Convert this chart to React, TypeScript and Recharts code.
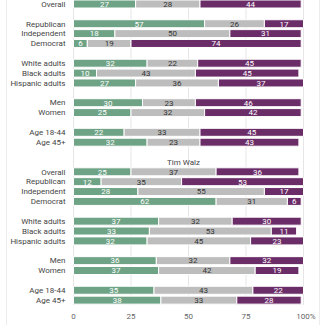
import React from 'react';
import { BarChart, Bar, XAxis, YAxis, CartesianGrid, LabelList, ReferenceLine } from 'recharts';

const groups = ['Overall', 'Republican', 'Independent', 'Democrat', 'White adults', 'Black adults', 'Hispanic adults', 'Men', 'Women', 'Age 18-44', 'Age 45+'];
// gap rows inserted after these group indices
const vanceGapAfter = [0, 3, 6, 8];
const walzGapAfter = [3, 6, 8];

const vanceFavorable = [27, 57, 18, 6, 32, 10, 27, 30, 25, 22, 32];
const vanceNeutral = [28, 26, 50, 19, 22, 43, 36, 23, 32, 33, 23];
const vanceUnfavorable = [44, 17, 31, 74, 45, 45, 37, 46, 42, 45, 43];

const walzFavorable = [25, 12, 28, 62, 37, 33, 32, 36, 37, 35, 38];
const walzNeutral = [37, 35, 55, 31, 32, 53, 45, 32, 42, 43, 33];
const walzUnfavorable = [36, 53, 17, 6, 30, 11, 23, 32, 19, 22, 28];

const walzTitle = 'Tim Walz';
const xTicks = [0, 25, 50, 75, 100];

const GREEN = '#6fa386';
const GRAY = '#bdbdbd';
const PURPLE = '#6b2d68';

type Row = { id: string; label: string; fav: number | null; neu: number | null; unf: number | null };

function buildSection(prefix: string, fav: number[], neu: number[], unf: number[], gaps: number[]): Row[] {
  const out: Row[] = [];
  groups.forEach((g, i) => {
    out.push({ id: `${prefix}-${i}`, label: g, fav: fav[i], neu: neu[i], unf: unf[i] });
    if (gaps.includes(i)) out.push({ id: `${prefix}-gap-${i}`, label: '', fav: null, neu: null, unf: null });
  });
  return out;
}

const rows: Row[] = [
  ...buildSection('v', vanceFavorable, vanceNeutral, vanceUnfavorable, vanceGapAfter),
  { id: 'sep', label: '', fav: null, neu: null, unf: null },
  { id: 'walz-title', label: '', fav: null, neu: null, unf: null },
  ...buildSection('w', walzFavorable, walzNeutral, walzUnfavorable, walzGapAfter),
];

const labelById: Record<string, string> = {};
rows.forEach((r) => (labelById[r.id] = r.label));

const XTick = (props: any) => {
  const { x, y, payload } = props;
  const v = payload.value;
  return (
    <text x={x + (v === 100 ? 2.5 : 0)} y={y} dy="0.71em" textAnchor="middle" fill="#666" fontSize={8} fontFamily="Roboto">
      {v === 100 ? '100%' : v}
    </text>
  );
};

const YTick = (props: any) => {
  const { x, y, payload } = props;
  const label = labelById[payload.value] || '';
  return (
    <text x={x} y={y} dy="0.355em" textAnchor="end" fill="#444" fontSize={8} fontFamily="Roboto">
      {label}
    </text>
  );
};

const fmt = (v: any) => (v === null || v === undefined ? '' : v);

export default function App() {
  return (
    <div style={{ position: 'fixed', left: 0, top: 0, width: 328, height: 328, overflow: 'hidden', background: '#fff', fontFamily: 'Roboto' }}>
      <div style={{ position: 'absolute', left: 6, top: 0, width: 1, height: 325, background: '#ececec' }} />
      <div style={{ position: 'absolute', left: 319, top: 0, width: 1, height: 325, background: '#ececec' }} />
      <div style={{ position: 'absolute', left: 0, top: -10 }}>
        <BarChart
          width={328}
          height={345}
          data={rows}
          layout="vertical"
          margin={{ top: 9, right: 24.5, left: 0, bottom: 0 }}
          barSize={8}
        >
          <CartesianGrid horizontal={false} vertical stroke="#e6e6e6" />
          <XAxis
            type="number"
            domain={[0, 100]}
            ticks={xTicks}
            axisLine={false}
            tickLine={false}
            height={30}
            tick={<XTick />}
            interval={0}
          />
          <YAxis
            type="category"
            dataKey="id"
            width={73.5}
            axisLine={false}
            tickLine={false}
            interval={0}
            tick={<YTick />}
          />
          <ReferenceLine
            y="walz-title"
            stroke="none"
            label={{ value: walzTitle, position: 'center', fill: '#444', fontSize: 8, fontFamily: 'Roboto', dx: -5 }}
          />
          <Bar dataKey="fav" stackId="a" fill={GREEN} stroke="#fff" strokeWidth={1} isAnimationActive={false}>
            <LabelList dataKey="fav" position="center" fill="#fff" fontSize={8} fontFamily="Roboto" formatter={fmt} />
          </Bar>
          <Bar dataKey="neu" stackId="a" fill={GRAY} stroke="#fff" strokeWidth={1} isAnimationActive={false}>
            <LabelList dataKey="neu" position="center" fill="#333" fontSize={8} fontFamily="Roboto" formatter={fmt} />
          </Bar>
          <Bar dataKey="unf" stackId="a" fill={PURPLE} stroke="#fff" strokeWidth={1} isAnimationActive={false}>
            <LabelList dataKey="unf" position="center" fill="#fff" fontSize={8} fontFamily="Roboto" formatter={fmt} />
          </Bar>
        </BarChart>
      </div>
    </div>
  );
}
